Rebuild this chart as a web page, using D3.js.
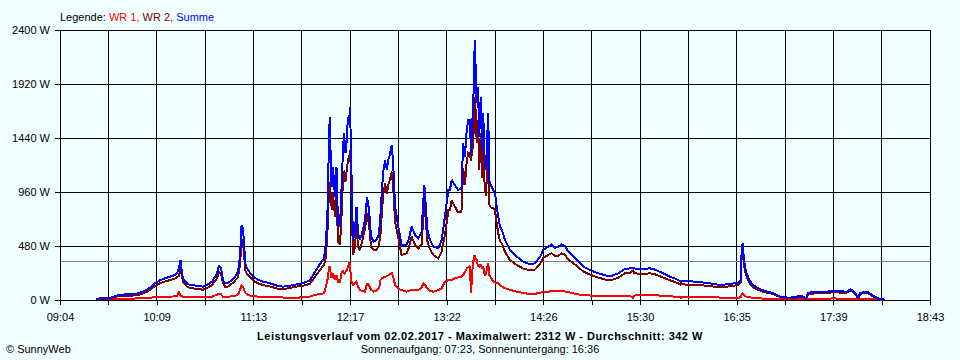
<!DOCTYPE html>
<html><head><meta charset="utf-8">
<script src="https://cdn.jsdelivr.net/npm/d3@7"></script>
<style>
body{margin:0;background:#F0FFFF;}
svg{display:block;}
text{font-family:"Liberation Sans",Arial,sans-serif;font-size:11px;}
</style></head><body>
<svg id="chart" width="960" height="360"></svg>
<script>
const times = [
"09:28:00","09:30:40","09:35:20","09:37:20","09:40:40","09:43:20","09:47:20","09:52:30","09:55:10","09:59:10",
"10:02:30","10:05:10","10:07:10","10:10:30","10:13:50","10:17:10","10:20:30","10:21:50","10:23:10","10:24:10",
"10:25:10","10:25:50","10:28:30","10:30:30","10:35:10","10:39:10","10:41:50","10:45:10","10:48:30","10:49:50",
"10:51:10","10:52:30","10:53:50","10:55:50","10:58:30","11:00:30","11:02:30","11:03:50","11:04:50","11:05:50",
"11:06:30","11:07:30","11:09:10","11:12:30","11:15:50","11:19:10","11:23:50","11:28:30","11:32:20","11:37:00",
"11:41:40","11:45:40","11:50:20","11:53:40","11:57:00","11:59:40","12:01:00","12:02:20","12:03:00","12:03:40",
"12:04:20","12:05:00","12:05:40","12:07:00","12:08:00","12:09:00","12:10:20","12:11:20","12:12:20","12:13:00",
"12:14:00","12:14:40","12:15:40","12:16:20","12:17:00","12:17:40","12:18:20","12:19:00","12:20:20","12:21:20",
"12:22:20","12:23:40","12:25:00","12:27:00","12:28:20","12:29:40","12:31:00","12:32:40","12:34:40","12:36:20",
"12:37:20","12:38:20","12:39:10","12:40:20","12:41:30","12:42:30","12:43:40","12:44:50","12:45:50","12:47:00",
"12:49:10","12:51:20","12:54:40","12:56:20","12:58:00","13:00:20","13:02:30","13:04:40","13:05:50","13:06:30",
"13:07:10","13:08:30","13:10:10","13:12:30","13:15:50","13:18:00","13:20:10","13:22:30","13:23:30","13:24:40",
"13:26:50","13:29:00","13:31:10","13:32:20","13:33:30","13:34:40","13:35:40","13:36:50","13:37:30","13:38:40",
"13:39:30","13:40:00","13:40:40","13:41:20","13:42:10","13:43:00","13:44:00","13:44:50","13:45:40","13:46:40",
"13:47:30","13:48:10","13:49:00","13:49:40","13:50:40","13:52:20","13:53:30","13:54:40","13:55:40","13:56:50",
"13:58:10","14:00:10","14:03:30","14:08:00","14:12:20","14:16:50","14:20:10","14:23:30","14:25:40","14:29:00",
"14:31:10","14:33:30","14:35:30","14:37:50","14:40:00","14:42:20","14:45:40","14:49:00","14:52:20","14:56:40",
"15:02:10","15:07:50","15:11:20","15:15:30","15:20:00","15:23:20","15:25:20","15:26:00","15:28:50","15:33:20",
"15:36:40","15:40:00","15:45:30","15:50:00","15:54:30","15:56:40","15:57:00","15:57:40","16:03:20","16:10:00",
"16:14:20","16:16:30","16:23:10","16:29:50","16:35:20","16:37:00","16:37:40","16:38:20","16:39:00","16:39:50",
"16:41:00","16:42:40","16:45:20","16:48:40","16:53:10","16:57:40","17:01:20","17:04:20","17:09:50","17:14:20",
"17:17:40","17:20:30","17:22:00","17:26:30","17:34:10","17:38:40","17:43:10","17:47:30","17:50:10","17:51:40",
"17:54:10","17:55:20","17:56:20","17:59:40","18:01:40","18:05:20","18:08:30","18:12:00","18:13:00"];

const wr1 = [
5,6,6,8,8,10,10,12,14,17,
20,22,24,26,28,30,32,33,74,40,
32,30,28,27,27,27,27,30,45,56,
50,30,28,30,32,35,50,89,130,120,
90,60,44,35,30,30,28,25,22,20,
20,25,30,45,53,60,118,200,296,296,
207,207,237,178,222,163,160,237,267,230,
250,260,300,326,320,178,150,133,150,163,
120,89,80,74,148,130,90,74,85,104,
178,193,200,207,210,220,230,237,200,133,
100,89,74,80,89,89,89,110,148,140,
130,100,80,74,89,104,163,178,180,178,
193,200,207,220,250,281,290,300,59,300,
380,400,370,356,300,296,320,280,300,222,
230,280,326,220,200,163,155,150,148,130,
120,104,90,74,62,53,55,65,70,74,
78,78,80,80,76,70,59,50,44,40,
38,38,38,38,38,38,20,38,44,44,
44,42,38,32,30,30,15,30,30,26,
25,24,22,20,20,24,50,59,45,35,
30,24,20,15,12,8,6,6,6,8,
10,8,12,12,12,14,12,10,10,10,
8,6,8,8,8,6,5,3,0];

const wr2 = [
5,9,9,12,27,34,40,40,42,57,
78,102,124,149,165,177,190,204,213,290,
208,163,120,106,100,91,106,133,192,255,
230,148,120,120,146,172,202,311,537,517,
399,251,223,172,148,133,120,102,96,107,
120,125,145,205,267,310,386,689,1000,1050,
889,800,948,740,963,518,492,741,1066,1150,
1054,1133,1250,1244,1330,1155,739,400,472,667,
473,444,513,637,770,670,473,444,448,489,
592,807,941,1037,946,1024,1070,1141,985,697,
552,400,415,470,563,489,459,497,741,882,
759,522,453,400,370,429,578,800,798,889,
829,778,783,1173,1024,1230,1310,1300,1241,1359,
1546,1800,1674,1392,1596,1156,1487,1083,1359,993,
926,1120,1333,847,822,815,793,680,593,522,
500,429,354,311,279,264,271,320,374,400,
417,387,394,415,404,360,326,291,252,227,
199,178,178,199,238,243,261,243,232,234,
237,228,199,175,154,139,154,139,136,134,
125,124,111,122,134,154,394,450,340,261,
207,154,113,89,68,57,38,18,15,22,
28,7,53,59,62,69,66,64,85,75,
36,9,51,66,62,29,10,3,0];

const summe = [
10,15,15,20,35,44,50,52,56,74,
98,124,148,175,193,207,222,237,287,356,
240,193,148,133,127,118,133,163,237,311,
280,178,148,150,178,207,252,400,667,637,
489,311,267,207,178,163,148,127,118,127,
140,150,175,250,320,370,504,889,1481,1630,
1096,1007,1185,918,1185,681,652,978,1333,1481,
1304,1393,1630,1570,1718,1333,889,533,622,830,
593,533,593,711,918,800,563,518,533,593,
770,1000,1141,1244,1156,1244,1300,1378,1185,830,
652,489,489,550,652,578,548,607,889,1022,
889,622,533,474,459,533,741,978,978,1067,
1022,978,990,1393,1274,1511,1600,1600,1300,1659,
1926,2312,2044,1748,1896,1452,1807,1363,1659,1215,
1156,1400,1659,1067,1022,978,948,830,741,652,
620,533,444,385,341,317,326,385,444,474,
495,465,474,495,480,430,385,341,296,267,
237,216,216,237,276,281,281,281,276,278,
281,270,237,207,184,169,169,169,166,160,
150,148,133,142,154,178,444,509,385,296,
237,178,133,104,80,65,44,24,21,30,
38,15,65,71,74,83,78,74,95,85,
44,15,59,74,70,35,15,6,0];

const yTicks = [0, 480, 960, 1440, 1920, 2400];
const xTickLabels = ["09:04","10:09","11:13","12:17","13:22","14:26","15:30","16:35","17:39","18:43"];
const average = 342;
const maximum = 2312;
const dateText = "02.02.2017";
const day = "2017-02-02";
const sunrise = "07:23", sunset = "16:36";

const svg = d3.select("#chart");
const W = 960, H = 360;
const m = {left: 60, right: 30, top: 30, bottom: 60};
const parse = d3.timeParse("%Y-%m-%d %H:%M:%S");
const pt = t => parse(day + " " + (t.length === 5 ? t + ":00" : t));

const t0 = pt(xTickLabels[0]), t1 = pt(xTickLabels[xTickLabels.length - 1]);
const x = d3.scaleTime().domain([t0, t1]).range([m.left, W - m.right]);
const y = d3.scaleLinear().domain([0, 2400]).range([H - m.bottom, m.top]);

svg.append("rect").attr("width", W).attr("height", H).attr("fill", "#F0FFFF");

const nGrid = (xTickLabels.length - 1) * 2;
const gridTimes = d3.range(nGrid + 1).map(k => new Date(+t0 + k * (t1 - t0) / nGrid));

// grid
const grid = svg.append("g").attr("shape-rendering", "crispEdges");
grid.selectAll("line.v").data(gridTimes).join("line")
  .attr("x1", d => x(d)).attr("x2", d => x(d))
  .attr("y1", y(2400)).attr("y2", y(0))
  .attr("stroke", "#000").attr("stroke-width", 1);
grid.selectAll("line.h").data(yTicks).join("line")
  .attr("x1", m.left).attr("x2", W - m.right)
  .attr("y1", d => y(d)).attr("y2", d => y(d))
  .attr("stroke", "#000").attr("stroke-width", 1);

// average line
svg.append("line").attr("shape-rendering", "crispEdges")
  .attr("x1", m.left).attr("x2", W - m.right)
  .attr("y1", y(average)).attr("y2", y(average))
  .attr("stroke", "#808080").attr("stroke-width", 1);

// axes
const xAxis = d3.axisBottom(x).tickValues(gridTimes).tickSize(5).tickPadding(8)
  .tickFormat((d, i) => i % 2 === 0 ? xTickLabels[i / 2] : "");
const gx = svg.append("g").attr("transform", `translate(0,${y(0)})`).attr("shape-rendering", "crispEdges").call(xAxis);
const yAxis = d3.axisLeft(y).tickValues(yTicks).tickSize(5).tickPadding(5).tickFormat(d => d + " W");
const gy = svg.append("g").attr("transform", `translate(${m.left},0)`).attr("shape-rendering", "crispEdges").call(yAxis);
[gx, gy].forEach(g => {
  g.select(".domain").attr("stroke", "#000");
  g.selectAll(".tick line").attr("stroke", "#000");
  g.selectAll("text").attr("fill", "#000").attr("font-family", '"Liberation Sans", Arial, sans-serif').attr("font-size", 11);
});

// series
const ts = times.map(pt);
const series = [
  {name: "WR 1", values: wr1, color: "#FF0000"},
  {name: "WR 2", values: wr2, color: "#800000"},
  {name: "Summe", values: summe, color: "#0000FF"}
];
const line = d3.line().x((d, i) => x(ts[i])).y(d => y(d));
svg.append("g").attr("shape-rendering", "crispEdges").selectAll("path").data(series).join("path")
  .attr("d", s => line(s.values))
  .attr("fill", "none").attr("stroke", s => s.color).attr("stroke-width", 2)
  .attr("stroke-linejoin", "miter").attr("stroke-miterlimit", 2);

// legend
const lg = svg.append("text").attr("x", 60).attr("y", 21);
lg.append("tspan").attr("fill", "#000").text("Legende: ");
series.forEach((s, i) => {
  lg.append("tspan").attr("fill", s.color).text(s.name + (i < series.length - 1 ? ", " : ""));
});

// title & footer
svg.append("text").attr("x", 480).attr("y", 340).attr("text-anchor", "middle")
  .attr("font-weight", "bold").attr("fill", "#000").attr("letter-spacing", "0.5px")
  .text(`Leistungsverlauf vom ${dateText} - Maximalwert: ${maximum} W - Durchschnitt: ${average} W`);
svg.append("text").attr("x", 480).attr("y", 353).attr("text-anchor", "middle").attr("fill", "#000")
  .text(`Sonnenaufgang: ${sunrise}, Sonnenuntergang: ${sunset}`);
svg.append("text").attr("x", 6).attr("y", 353).attr("fill", "#000").text("© SunnyWeb");
</script>
</body></html>
